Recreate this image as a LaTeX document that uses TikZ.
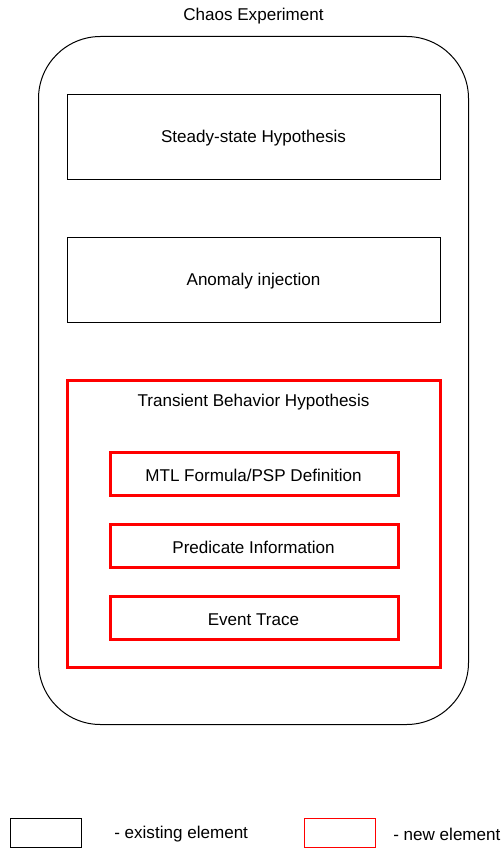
\documentclass[tikz,border=0pt]{standalone}
\usepackage{fontspec}
\setmainfont{Liberation Sans}
\begin{document}
\begin{tikzpicture}[x=0.75pt,y=-0.75pt,
  every node/.style={font=\fontsize{12.8}{15}\selectfont, inner sep=0pt, yshift=-1.5pt},
  oldbox/.style={draw=black, line width=0.75pt, fill=white},
  newbox/.style={draw=red, line width=2.25pt, fill=white},
  lbl/.style={anchor=center}]
\useasboundingbox (0,0) rectangle (500,848);
% outer experiment container
\draw[line width=0.75pt, rounded corners=46.5pt] (38.5,36.5) rectangle (468.5,724.5);
\node[lbl] (title) at (253.5,14) {Chaos Experiment};
% existing parts
\draw[oldbox] (67.5,94.5) rectangle (440.5,179.5);
\node[lbl] (ssh) at (253.5,136.5) {Steady-state Hypothesis};
\draw[oldbox] (67.5,237.5) rectangle (440.5,322.5);
\node[lbl] (ai) at (253.5,279.5) {Anomaly injection};
% new transient behaviour block
\draw[newbox] (67.5,380.5) rectangle (440.5,667.5);
\node[lbl] (tbh) at (253.5,400.5) {Transient Behavior Hypothesis};
\draw[newbox] (110.5,452.5) rectangle (398.5,495.5);
\node[lbl] (mtl) at (253.5,473.5) {MTL Formula/PSP Definition};
\draw[newbox] (110.5,524.5) rectangle (398.5,567.5);
\node[lbl] (pred) at (253.5,545.5) {Predicate Information};
\draw[newbox] (110.5,596.5) rectangle (398.5,639.5);
\node[lbl] (ev) at (253.5,617.5) {Event Trace};
% legend
\draw[line width=0.75pt] (10.5,818.5) rectangle (81.5,847.5);
\node[anchor=west] (lold) at (114,832.5) {- existing element};
\draw[draw=red, line width=0.75pt] (304.5,818.5) rectangle (375.5,847.5);
\node[anchor=west] (lnew) at (393,832.5) {- new element};
\end{tikzpicture}
\end{document}
